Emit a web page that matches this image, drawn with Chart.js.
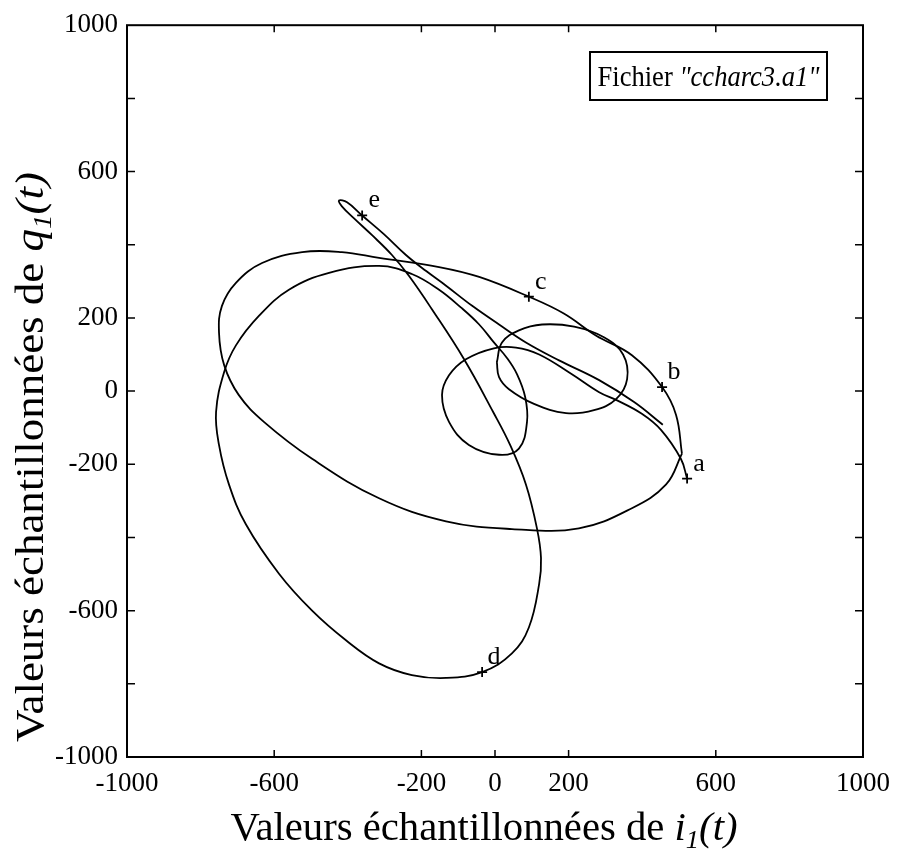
<!DOCTYPE html>
<html>
<head>
<meta charset="utf-8">
<script src="https://cdn.jsdelivr.net/npm/chart.js@4"></script>
<style>
  body { margin: 0; background: #fff; }
  canvas { display: block; }
</style>
</head>
<body>
<canvas id="chart" width="903" height="854"></canvas>
<script>
// Trajectoire (i1, q1)

// grande boucle (a - b - c - haut - gauche - bas)
const bigLoopX = [508, 492, 454, 372, 274, 187, 92, -43, -152, -315, -416, -524, -633, -704, -742, -750, -736, -696, -628, -497, -315, -133, 46, 228, 372, 465, 508];
const bigLoopY = [-171, -65, 11, 98, 152, 212, 258, 312, 339, 364, 380, 380, 350, 296, 233, 160, 71, -11, -84, -185, -293, -356, -377, -375, -320, -255, -171];

// trajet principal : a -> petite boucle -> boucle du bas (d) -> e -> fin
const mainPathX = [522, 505, 451, 399, 329, 283, 209, 120, 57, -3, -79, -125, -144, -125, -71, 11, 65, 87, 82, 60, 33, -3, -43, -92, -152, -226, -315, -451, -560, -641, -704, -736, -758, -750, -723, -677, -587, -497, -405, -315, -226, -133, -35, 46, 92, 120, 125, 114, 84, 41, -5, -84, -171, -234, -280, -334, -383, -416, -424, -402, -361, -302, -242, -187, -133, -62, 11, 84, 174, 283, 378, 456];
const mainPathY = [-239, -185, -106, -62, -24, -3, 46, 100, 119, 117, 87, 43, -11, -84, -147, -174, -157, -84, -16, 46, 90, 133, 182, 228, 277, 320, 342, 323, 277, 206, 125, 52, -57, -147, -255, -364, -499, -600, -681, -744, -776, -784, -768, -717, -646, -527, -456, -375, -255, -147, -57, 87, 223, 315, 372, 426, 472, 505, 521, 516, 480, 429, 372, 328, 288, 233, 182, 133, 84, 30, -30, -92];

// petite ellipse de droite
const smallLoopX = [5, 19, 65, 128, 215, 296, 348, 359, 329, 269, 193, 106, 38, 11, 5];
const smallLoopY = [79, 133, 166, 182, 176, 147, 100, 33, -22, -52, -60, -35, 5, 38, 79];

// points repères
const markNames = ['a', 'b', 'c', 'd', 'e'];
const markX = [522, 454, 92, -35, -361];
const markY = [-239, 11, 258, -768, 480];

// graduations
const xTickLabels = [-1000, -600, -200, 0, 200, 600, 1000];
const yTickLabels = [-1000, -600, -200, 0, 200, 600, 1000];
const yTickMarks = [-800, -600, -400, -200, 0, 200, 400, 600, 800];

const serif = '"Liberation Serif", "DejaVu Serif", serif';

function toPoints(xs, ys) {
    return xs.map((x, i) => ({ x: x, y: ys[i] }));
}

function lineSet(xs, ys) {
    return {
        data: toPoints(xs, ys),
        showLine: true,
        borderColor: '#000',
        borderWidth: 1.8,
        pointRadius: 0,
        tension: 0.4,
        fill: false
    };
}

// texte composé (romain + italique + indice), ajusté à une largeur donnée
function drawRich(ctx, parts, x, y, targetWidth) {
    let w = 0;
    parts.forEach(p => {
        ctx.font = p.font;
        p.w = ctx.measureText(p.text).width;
        w += p.w;
    });
    const k = targetWidth / w;
    ctx.save();
    ctx.translate(x, y);
    ctx.scale(k, 1);
    ctx.textAlign = 'left';
    ctx.textBaseline = 'alphabetic';
    let cx = -w / 2;
    parts.forEach(p => {
        ctx.font = p.font;
        ctx.fillText(p.text, cx, p.dy || 0);
        cx += p.w;
    });
    ctx.restore();
}

const decorPlugin = {
    id: 'decor',
    afterDatasetsDraw(chart) {
        const ctx = chart.ctx;
        const a = chart.chartArea;
        const xs = chart.scales.x;
        const ys = chart.scales.y;
        ctx.save();
        ctx.fillStyle = '#000';
        ctx.strokeStyle = '#000';

        // cadre
        ctx.lineWidth = 2;
        ctx.strokeRect(a.left, a.top, a.right - a.left, a.bottom - a.top);

        // graduations vers l'intérieur
        ctx.lineWidth = 1.5;
        ctx.beginPath();
        xTickLabels.forEach(v => {
            const px = xs.getPixelForValue(v);
            ctx.moveTo(px, a.bottom); ctx.lineTo(px, a.bottom - 7);
            ctx.moveTo(px, a.top); ctx.lineTo(px, a.top + 7);
        });
        yTickMarks.forEach(v => {
            const py = ys.getPixelForValue(v);
            ctx.moveTo(a.left, py); ctx.lineTo(a.left + 8, py);
            ctx.moveTo(a.right, py); ctx.lineTo(a.right - 8, py);
        });
        ctx.stroke();

        // lettres a..e
        ctx.font = '26px ' + serif;
        ctx.textAlign = 'center';
        ctx.textBaseline = 'alphabetic';
        markNames.forEach((n, i) => {
            const px = xs.getPixelForValue(markX[i]);
            const py = ys.getPixelForValue(markY[i]);
            ctx.fillText(n, px + 12, py - 8);
        });

        // encadré du nom de fichier
        ctx.lineWidth = 2;
        ctx.strokeRect(590, 52, 237, 48);
        drawRich(ctx, [
            { text: 'Fichier ', font: '30px ' + serif },
            { text: '"ccharc3.a1"', font: 'italic 30px ' + serif }
        ], 708.5, 86, 222);

        // titres des axes
        drawRich(ctx, [
            { text: 'Valeurs échantillonnées de ', font: '40px ' + serif },
            { text: 'i', font: 'italic 40px ' + serif },
            { text: '1', font: 'italic 26px ' + serif, dy: 8 },
            { text: '(t)', font: 'italic 40px ' + serif }
        ], 484, 840, 507);

        ctx.save();
        ctx.translate(43, 457);
        ctx.rotate(-Math.PI / 2);
        drawRich(ctx, [
            { text: 'Valeurs échantillonnées de ', font: '40px ' + serif },
            { text: 'q', font: 'italic 40px ' + serif },
            { text: '1', font: 'italic 26px ' + serif, dy: 8 },
            { text: '(t)', font: 'italic 40px ' + serif }
        ], 0, 0, 570);
        ctx.restore();

        ctx.restore();
    }
};

const tickFont = { family: serif, size: 27 };

const ctx = document.getElementById('chart').getContext('2d');
const chart = new Chart(ctx, {
    type: 'scatter',
    data: {
        datasets: [
            lineSet(bigLoopX, bigLoopY),
            lineSet(mainPathX, mainPathY),
            lineSet(smallLoopX, smallLoopY),
            {
                data: toPoints(markX, markY),
                showLine: false,
                pointStyle: 'cross',
                pointRadius: 5,
                borderColor: '#000',
                borderWidth: 1.8
            }
        ]
    },
    options: {
        responsive: false,
        animation: false,
        layout: { padding: { top: 20, right: 40, left: 0, bottom: 0 } },
        plugins: {
            legend: { display: false },
            tooltip: { enabled: false }
        },
        scales: {
            x: {
                type: 'linear',
                min: -1000,
                max: 1000,
                afterBuildTicks: s => { s.ticks = xTickLabels.map(v => ({ value: v })); },
                afterFit: s => { s.height = 97; },
                grid: { display: false, drawTicks: false },
                border: { display: false },
                ticks: {
                    autoSkip: false,
                    maxRotation: 0,
                    padding: 11,
                    color: '#000',
                    font: tickFont,
                    callback: v => String(v)
                }
            },
            y: {
                type: 'linear',
                min: -1000,
                max: 1000,
                afterBuildTicks: s => { s.ticks = yTickLabels.map(v => ({ value: v })); },
                afterFit: s => { s.width = 127; },
                grid: { display: false, drawTicks: false },
                border: { display: false },
                ticks: {
                    autoSkip: false,
                    padding: 9,
                    color: '#000',
                    font: tickFont,
                    callback: v => String(v)
                }
            }
        }
    },
    plugins: [decorPlugin]
});
</script>
</body>
</html>
